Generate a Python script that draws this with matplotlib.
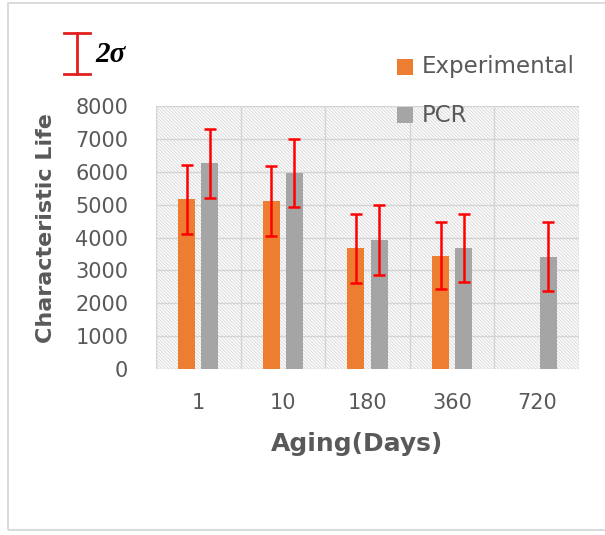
import matplotlib
matplotlib.use("Agg")
import matplotlib.pyplot as plt
from matplotlib.patches import Rectangle
from matplotlib.lines import Line2D
import numpy as np

# Characteristic life versus aging time
aging_days = ["1", "10", "180", "360", "720"]
experimental = [5160, 5110, 3680, 3450, np.nan]
experimental_err = [1050, 1060, 1050, 1030, np.nan]
pcr = [6260, 5970, 3920, 3670, 3410]
pcr_err = [1050, 1040, 1060, 1030, 1050]
y_ticks = [0, 1000, 2000, 3000, 4000, 5000, 6000, 7000, 8000]

W, H = 605, 535
plt.rcParams['font.family'] = ['DejaVu Sans']
fig = plt.figure(figsize=(W / 100, H / 100), dpi=100)
fig.patch.set_facecolor("white")

# light frame around the figure
fig.add_artist(Rectangle((8 / W, 1 - 530 / H), 1.2, (530 - 3) / H,
                         transform=fig.transFigure, fill=False,
                         edgecolor="#d4d4d4", linewidth=1.2))

ax = fig.add_axes([156 / W, 1 - 369 / H, (579 - 156) / W, (369 - 106) / H])
ax.set_xlim(-0.5, 4.5)
ax.set_ylim(0, 8000)

# hatched plot background
plt.rcParams['hatch.linewidth'] = 0.8
bg = Rectangle((0, 0), 1, 1, transform=ax.transAxes, facecolor="white",
               edgecolor="#dedede", hatch="\\" * 10, linewidth=0, zorder=0)
ax.add_patch(bg)

# grid: horizontal at ticks, vertical at category boundaries
for y in y_ticks:
    ax.axhline(y, color="#d4d4d4", linewidth=1.0, zorder=1)
for xb in np.arange(-0.5, 5.0, 1.0):
    ax.axvline(xb, color="#d4d4d4", linewidth=1.0, zorder=1)

x = np.arange(len(aging_days))
bw = 0.2
off = 0.137
ax.bar(x - off, experimental, width=bw, color="#ED7D31", zorder=2,
       label="Experimental")
ax.bar(x + off, pcr, width=bw, color="#A5A5A5", zorder=2, label="PCR")
ax.errorbar(x - off, experimental, yerr=experimental_err, fmt="none",
            ecolor="#FF0000", elinewidth=1.8, capsize=4.2, capthick=1.8,
            zorder=3)
ax.errorbar(x + off, pcr, yerr=pcr_err, fmt="none", ecolor="#FF0000",
            elinewidth=1.8, capsize=4.2, capthick=1.8, zorder=3)

for s in ax.spines.values():
    s.set_visible(False)
ax.set_yticks(y_ticks)
ax.set_yticklabels([str(v) for v in y_ticks])
ax.set_xticks(x)
ax.set_xticklabels(aging_days)
ax.tick_params(axis="both", length=0, labelsize=15, labelcolor="#595959")
ax.tick_params(axis="y", pad=20)
ax.tick_params(axis="x", pad=17)
ax.set_ylabel("Characteristic Life", fontsize=16, fontweight="bold",
              color="#595959")
ax.yaxis.set_label_coords(-0.236, 0.535)
ax.set_xlabel("Aging(Days)", fontsize=18, fontweight="bold",
              color="#595959")
ax.xaxis.set_label_coords(0.475, -0.24)

# legend entries
def legend_entry(x0, y0, color, text):
    fig.add_artist(Rectangle((x0 / W, 1 - (y0 + 8) / H), 16 / W, 16 / H,
                             transform=fig.transFigure, facecolor=color,
                             edgecolor="none"))
    fig.text((x0 + 25) / W, 1 - y0 / H, text, fontsize=16.5,
             color="#595959", va="center", ha="left")

legend_entry(397, 67, "#ED7D31", "Experimental")
legend_entry(397, 115, "#A5A5A5", "PCR")

# 2-sigma key
cx, ytop, ybot, half = 77, 33, 74, 13
fig.add_artist(Line2D([cx / W, cx / W], [1 - ytop / H, 1 - ybot / H],
                      transform=fig.transFigure, color="#E0201E", lw=2))
for yy in (ytop, ybot):
    fig.add_artist(Line2D([(cx - half) / W, (cx + half) / W],
                          [1 - yy / H, 1 - yy / H],
                          transform=fig.transFigure, color="#E0201E", lw=2))
fig.text(95 / W, 1 - 55 / H, "2σ", fontsize=21, fontweight="bold",
         fontstyle="italic", family=["Liberation Serif", "DejaVu Serif"],
         va="center", ha="left", color="black")

fig.savefig("out.png", dpi=100)
